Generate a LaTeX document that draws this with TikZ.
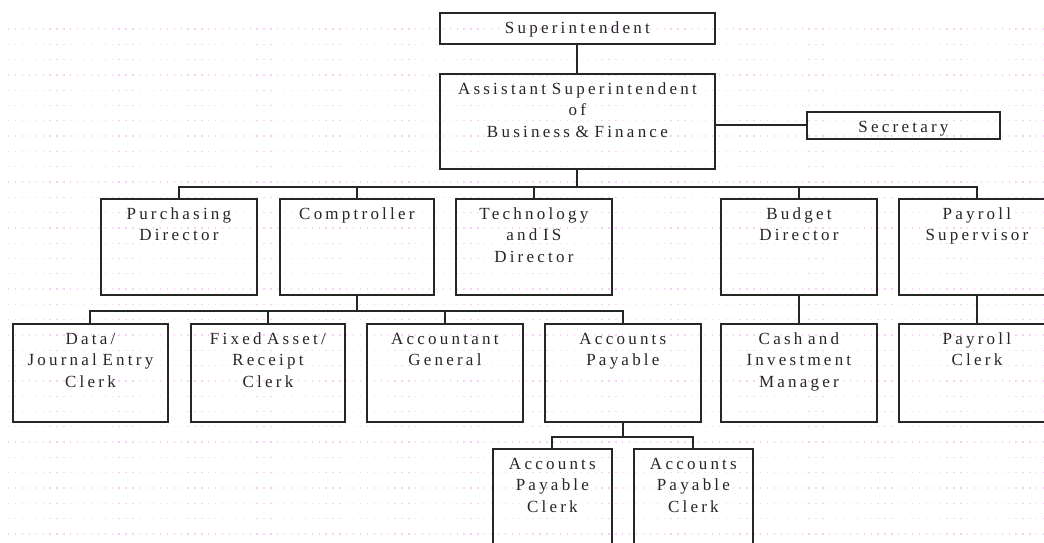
\documentclass[tikz,border=0pt]{standalone}
\usepackage{fontspec}
\setmainfont[LetterSpace=19]{Liberation Serif}
\usetikzlibrary{calc}
\definecolor{ink}{HTML}{262626}
\definecolor{dotpink}{HTML}{F5D2F5}
\tikzset{
  orgbox/.style={draw=ink, line width=1.8pt, fill=none, inner sep=0pt, anchor=north west},
  orgtext/.style={text=ink, inner sep=0pt, anchor=base, align=center,
    font=\fontsize{17}{21.5}\selectfont},
  connector/.style={draw=ink, line width=2pt},
  bgdots/.style={draw=dotpink, line width=1.3pt, dash pattern=on 1.3pt off 5.6pt}
}
% \orgunit{name}{x}{y}{width}{height}{text}{text width}
\newcommand\orgunit[7]{%
  \node[orgbox, minimum width=#4pt, minimum height=#5pt] (#1) at (#2,#3) {};
  \node[orgtext, text width=#7pt] (#1-t) at ([yshift=-21pt]#1.north) {#6};
}
\begin{document}
\begin{tikzpicture}[x=1pt,y=-1pt]
  \useasboundingbox (0,0) rectangle (1044,542);
  \fill[white] (0,0) rectangle (1044,542);
  \clip (0,0) rectangle (1044,542);
  % faint dotted background rows
  \foreach \r in {0,...,33} {
    \draw[bgdots] (8,29+15.3*\r) -- (1044,29+15.3*\r);
  }

  % top of the chart
  \orgunit{sup}{439}{12}{275}{31}{Superintendent}{270}
  \orgunit{asst}{439}{73}{275}{95}{Assistant Superintendent\\of\\Business \& Finance}{270}
  \orgunit{sec}{806}{111}{193}{27}{Secretary}{190}

  % directors
  \orgunit{pur}{100}{198}{156}{96}{Purchasing\\Director}{150}
  \orgunit{comp}{279}{198}{154}{96}{Comptroller}{150}
  \orgunit{tech}{455}{198}{156}{96}{Technology\\and IS\\Director}{150}
  \orgunit{bud}{720}{198}{156}{96}{Budget\\Director}{150}
  \orgunit{pay}{898}{198}{156}{96}{Payroll\\Supervisor}{150}

  % staff
  \orgunit{data}{12}{323}{155}{98}{Data/\\Journal Entry\\Clerk}{150}
  \orgunit{fixed}{190}{323}{154}{98}{Fixed Asset/\\Receipt\\Clerk}{150}
  \orgunit{accg}{366}{323}{156}{98}{Accountant\\General}{150}
  \orgunit{ap}{544}{323}{156}{98}{Accounts\\Payable}{150}
  \orgunit{cash}{720}{323}{156}{98}{Cash and\\Investment\\Manager}{150}
  \orgunit{payc}{898}{323}{156}{98}{Payroll\\Clerk}{150}

  % clerks under accounts payable
  \orgunit{apc1}{492}{448}{119}{98}{Accounts\\Payable\\Clerk}{115}
  \orgunit{apc2}{633}{448}{119}{98}{Accounts\\Payable\\Clerk}{115}

  % connectors
  \draw[connector] (sup.south) -- (asst.north);
  \draw[connector] (sec.west) -- (sec.west -| asst.east);

  \coordinate (bus1) at ($(asst.south)+(0,17)$);
  \draw[connector] (asst.south) -- (bus1);
  \draw[connector] (pur.north) -- (pur.north |- bus1) -| (pay.north);
  \foreach \n in {comp,tech,bud} \draw[connector] (\n.north) -- (\n.north |- bus1);

  \coordinate (bus2) at ($(comp.south)+(0,15)$);
  \draw[connector] (comp.south) -- (bus2);
  \draw[connector] (data.north) -- (data.north |- bus2) -| (ap.north);
  \foreach \n in {fixed,accg} \draw[connector] (\n.north) -- (\n.north |- bus2);

  \draw[connector] (bud.south) -- (cash.north);
  \draw[connector] (pay.south) -- (payc.north);

  \coordinate (bus3) at ($(ap.south)+(0,14)$);
  \draw[connector] (ap.south) -- (bus3);
  \draw[connector] (apc1.north) -- (apc1.north |- bus3) -| (apc2.north);
\end{tikzpicture}
\end{document}
